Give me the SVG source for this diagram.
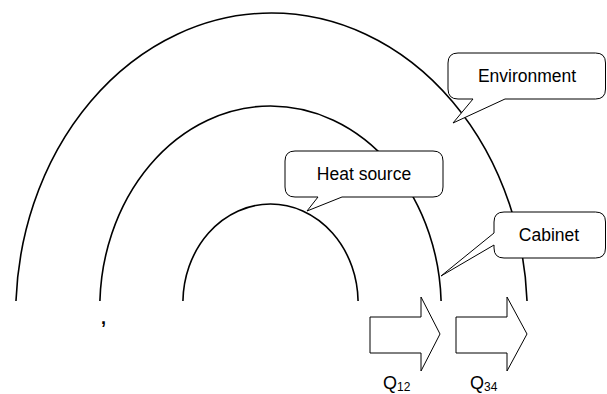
<svg xmlns="http://www.w3.org/2000/svg" width="607" height="394" viewBox="0 0 607 394">
<style>
.arc{fill:none;stroke:#000;stroke-width:1.6}
.call{fill:#fff;stroke:#000;stroke-width:1}
.lbl{font-family:"Liberation Sans",Arial,sans-serif;font-size:17.5px;fill:#000;text-anchor:middle}
.q{font-family:"Liberation Sans",Arial,sans-serif;font-size:18px;fill:#000}
.sub{font-size:12px}
.arrow{fill:#fff;stroke:#000;stroke-width:1}
</style>
<defs>
<clipPath id="top"><rect x="0" y="0" width="607" height="301"/></clipPath>
</defs>
<rect width="607" height="394" fill="#fff"/>
<g id="arcs" clip-path="url(#top)">
<ellipse id="environment-arc" class="arc" cx="271.5" cy="315" rx="255.8" ry="302"/>
<ellipse id="cabinet-arc" class="arc" cx="270.5" cy="308" rx="170.7" ry="202"/>
<ellipse id="source-arc" class="arc" cx="270.5" cy="303" rx="87.6" ry="99"/>
</g>
<text x="101" y="324" class="q" font-weight="bold">,</text>
<g id="connectors">
<polygon id="q12-arrow" class="arrow" points="370,317 421,317 421,297 440,334 421,371 421,353 370,353"/>
<polygon id="q34-arrow" class="arrow" points="456,317 507,317 507,297 527,334 507,371 507,353 456,353"/>
</g>
<g id="environment">
<path class="call" d="M458,53 H595.5 Q605.5,53 605.5,63 V89 Q605.5,99 595.5,99 H505 L453,123 L473,99 H458 Q448,99 448,89 V63 Q448,53 458,53 Z"/>
<text class="lbl" x="527" y="82">Environment</text>
</g>
<g id="heat-source">
<path class="call" d="M295,151 H433 Q443,151 443,161 V187 Q443,197 433,197 H342 L307,211 L318,197 H295 Q285,197 285,187 V161 Q285,151 295,151 Z"/>
<text class="lbl" x="364" y="180">Heat source</text>
</g>
<g id="cabinet">
<path class="call" d="M504,212 H595.5 Q605.5,212 605.5,222 V248 Q605.5,258 595.5,258 H504 Q494,258 494,248 V245 L441,276 L494,233 V222 Q494,212 504,212 Z"/>
<text class="lbl" x="549" y="241">Cabinet</text>
</g>
<g id="labels">
<text class="q" x="383" y="389">Q<tspan class="sub" dy="2">12</tspan></text>
<text class="q" x="470" y="389">Q<tspan class="sub" dy="2">34</tspan></text>
</g>
</svg>
